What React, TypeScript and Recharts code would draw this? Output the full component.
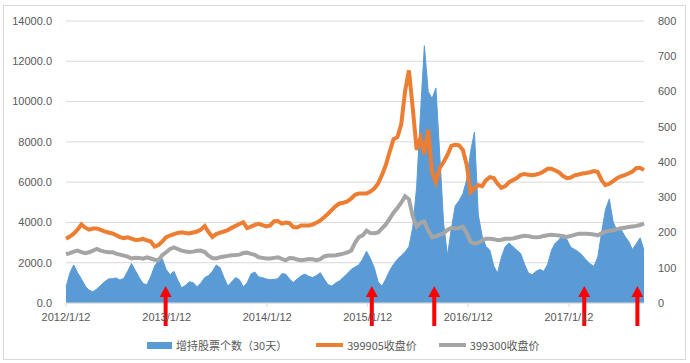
import * as React from "react";
import { ComposedChart, Area, Line, XAxis, YAxis, CartesianGrid, ReferenceDot } from "recharts";

const DAY = 86400000;
const START = Date.UTC(2012, 0, 12);
const STEP = 14 * DAY;

// 增持股票个数（30天）, right axis
const buyCount = [
	45, 85, 108, 86, 68, 48, 36, 32, 40, 50,
	60, 68, 69, 71, 65, 70, 90, 112, 92, 72,
	55, 52, 75, 105, 120, 125, 95, 80, 90, 65,
	43, 50, 60, 58, 46, 57, 72, 78, 90, 108,
	100, 72, 48, 60, 72, 66, 46, 57, 82, 88,
	74, 72, 68, 66, 67, 69, 83, 82, 68, 58,
	68, 77, 82, 76, 72, 78, 86, 68, 52, 48,
	57, 63, 73, 84, 95, 102, 108, 125, 147, 126,
	100, 60, 48, 68, 92, 110, 124, 135, 145, 160,
	215, 330, 540, 730, 600, 580, 610, 420, 225, 135,
	210, 275, 290, 310, 350, 430, 485, 250, 190, 160,
	150, 105, 85, 130, 160, 170, 160, 150, 140, 110,
	85, 80, 90, 95, 90, 110, 150, 170, 180, 195,
	180, 158, 152, 145, 135, 122, 111, 104, 130, 200,
	265, 295, 230, 205, 210, 190, 175, 152, 168, 185,
	150,
];

// 399905收盘价
const csi500 = [
	3190, 3300, 3440, 3640, 3900, 3740, 3640, 3700, 3700, 3630,
	3560, 3500, 3450, 3370, 3270, 3220, 3260, 3200, 3130, 3140,
	3180, 3110, 3050, 2800, 2880, 3060, 3270, 3350, 3420, 3480,
	3510, 3480, 3450, 3500, 3550, 3640, 3820, 3520, 3280, 3420,
	3490, 3550, 3620, 3730, 3830, 3920, 4010, 3720, 3790, 3880,
	3930, 3870, 3800, 3850, 4060, 4070, 3940, 3990, 3960, 3770,
	3750, 3850, 3850, 3850, 3890, 3990, 4100, 4260, 4430, 4620,
	4810, 4940, 4980, 5040, 5180, 5370, 5430, 5430, 5430, 5530,
	5680, 5930, 6360, 6850, 7510, 8130, 8230, 8870, 10520, 11550,
	9650, 7600, 8200, 7400, 8600, 6500, 6000, 6700, 7000, 7350,
	7800, 7850, 7830, 7600, 6850, 5500, 5700, 5850, 5800, 6100,
	6250, 6200, 5920, 5720, 5800, 6000, 6100, 6200, 6360, 6400,
	6370, 6340, 6380, 6430, 6540, 6660, 6660, 6580, 6480, 6300,
	6200, 6230, 6340, 6380, 6430, 6450, 6490, 6550, 6500, 6100,
	5850, 5920, 6050, 6200, 6290, 6350, 6430, 6520, 6700, 6700,
	6600,
];

// 399300收盘价
const csi300 = [
	2420, 2480, 2550, 2600, 2530, 2470, 2520, 2600, 2680, 2600,
	2550, 2525, 2520, 2450, 2400, 2350, 2300, 2210, 2250, 2240,
	2200, 2270, 2210, 2150, 2130, 2380, 2520, 2680, 2760, 2680,
	2600, 2560, 2530, 2550, 2590, 2600, 2530, 2350, 2230, 2210,
	2275, 2310, 2340, 2370, 2380, 2400, 2480, 2500, 2440, 2390,
	2270, 2240, 2210, 2210, 2240, 2270, 2190, 2120, 2230, 2220,
	2160, 2120, 2150, 2180, 2170, 2130, 2180, 2310, 2360, 2360,
	2370, 2410, 2450, 2510, 2600, 2990, 3270, 3360, 3590, 3470,
	3460, 3500, 3700, 3900, 4190, 4480, 4720, 4980, 5300, 5150,
	4300, 3800, 3980, 4050, 3600, 3270, 3310, 3390, 3460, 3630,
	3730, 3700, 3720, 3790, 3480, 3030, 2950, 3000, 3100, 3190,
	3190, 3170, 3120, 3140, 3185, 3190, 3200, 3250, 3300, 3340,
	3320, 3275, 3270, 3280, 3330, 3360, 3390, 3370, 3350, 3310,
	3280, 3330, 3380, 3440, 3440, 3440, 3430, 3400, 3360, 3460,
	3540, 3580, 3610, 3670, 3710, 3740, 3770, 3800, 3830, 3870,
	3950,
];

const yearTicks = ["2012/1/12", "2013/1/12", "2014/1/12", "2015/1/12", "2016/1/12", "2017/1/12"];
const leftTicks = [0, 2000, 4000, 6000, 8000, 10000, 12000, 14000];
const rightTicks = [0, 100, 200, 300, 400, 500, 600, 700, 800];
const arrowDates = ["2013/1/8", "2015/1/27", "2015/9/11", "2017/3/9", "2017/9/18"];
const ARROW_TIP = 850;

const parseDate = (s: string) => {
	const [y, m, d] = s.split("/").map(Number);
	return Date.UTC(y, m - 1, d);
};

const fmtDate = (t: number) => {
	const d = new Date(t);
	return `${d.getUTCFullYear()}/${d.getUTCMonth() + 1}/${d.getUTCDate()}`;
};

const data = buyCount.map((v, i) => ({
	date: START + i * STEP,
	buy: v,
	a: csi500[i],
	b: csi300[i],
}));

const END = data[data.length - 1].date;

const tickStyle = { fill: "#595959", fontSize: 11, fontFamily: "Liberation Sans, Arial, sans-serif" };

const Arrow = (props: any) => {
	const { cx, cy } = props;
	const head = 11, hw = 6, sw = 2, len = 40;
	const d = `M${cx},${cy} L${cx + hw},${cy + head} L${cx + sw},${cy + head} L${cx + sw},${cy + len} L${cx - sw},${cy + len} L${cx - sw},${cy + head} L${cx - hw},${cy + head} Z`;
	return <path d={d} fill="#ff0000" />;
};

const legendText: React.CSSProperties = {
	fontSize: 11,
	color: "#595959",
	fontFamily: "'Noto Sans CJK SC', 'Liberation Sans', sans-serif",
	marginLeft: 4,
};

const App: React.FC = () => {
	return <div style={{ position: "absolute", left: 0, top: 0, width: 690, height: 363, background: "#fff" }}>
		<div style={{ position: "absolute", left: 3, top: 5, width: 681, height: 353, border: "1px solid #d9d9d9" }} />
		<ComposedChart
			width={690}
			height={363}
			data={data}
			margin={{ top: 21, right: 0, bottom: 30, left: 0 }}
		>
			<CartesianGrid yAxisId="left" vertical={false} stroke="#d9d9d9" />
			<XAxis
				dataKey="date"
				type="number"
				domain={[START, END]}
				ticks={yearTicks.map(parseDate)}
				tickFormatter={fmtDate}
				height={30}
				tick={tickStyle}
				tickSize={4}
				tickMargin={6}
				stroke="#d9d9d9"
			/>
			<YAxis
				yAxisId="left"
				domain={[0, 14000]}
				ticks={leftTicks}
				tickFormatter={(v) => v.toFixed(1)}
				width={66}
				axisLine={false}
				tickLine={false}
				tickMargin={8}
				tick={tickStyle}
			/>
			<YAxis
				yAxisId="right"
				orientation="right"
				domain={[0, 800]}
				ticks={rightTicks}
				width={46}
				axisLine={false}
				tickLine={false}
				tickMargin={8}
				tick={{ ...tickStyle, textAnchor: "start" }}
			/>
			<Area yAxisId="right" dataKey="buy" type="linear" fill="#5b9bd5" fillOpacity={1} stroke="#5b9bd5" strokeWidth={1} isAnimationActive={false} />
			<Line yAxisId="left" dataKey="a" type="linear" stroke="#ed7d31" strokeWidth={4} dot={false} isAnimationActive={false} />
			<Line yAxisId="left" dataKey="b" type="linear" stroke="#a5a5a5" strokeWidth={4} dot={false} isAnimationActive={false} />
			{arrowDates.map((s) => (
				<ReferenceDot key={s} yAxisId="left" x={parseDate(s)} y={ARROW_TIP} shape={Arrow} ifOverflow="visible" />
			))}
		</ComposedChart>
		<div style={{ position: "absolute", top: 337, left: 147, display: "flex", alignItems: "center", height: 16 }}>
			<span style={{ display: "inline-block", width: 25, height: 7, background: "#5b9bd5" }} />
			<span style={legendText}>增持股票个数（30天）</span>
			<span style={{ display: "inline-block", width: 27, height: 4, background: "#ed7d31", marginLeft: 29 }} />
			<span style={legendText}>399905收盘价</span>
			<span style={{ display: "inline-block", width: 27, height: 4, background: "#a5a5a5", marginLeft: 22 }} />
			<span style={legendText}>399300收盘价</span>
		</div>
	</div>;
};

export default App;
